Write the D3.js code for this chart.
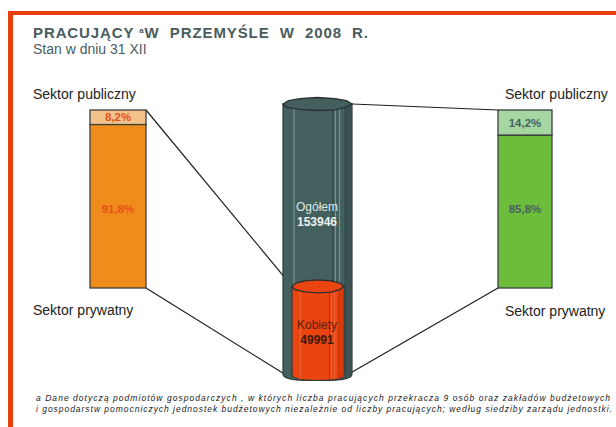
<!DOCTYPE html>
<html><head><meta charset="utf-8">
<script src="https://cdn.jsdelivr.net/npm/d3@7"></script>
<style>body{margin:0;background:#fff}svg{display:block;font-family:"Liberation Sans",Arial,sans-serif}</style>
</head><body><svg id="c" width="616" height="427"></svg>
<script>
const titleText = "PRACUJĄCY";
const subtitleText = "Stan w dniu 31 XII";
const sectors = ["Sektor publiczny", "Sektor prywatny"];
const leftShares = [8.2, 91.8];   // women (Kobiety)
const rightShares = [14.2, 85.8]; // total (Ogółem)
const leftLabels = ["8,2%", "91,8%"];
const rightLabels = ["14,2%", "85,8%"];
const cylNames = ["Ogółem", "Kobiety"];
const cylValues = [153946, 49991];
const footnote = [
 "a Dane dotyczą  podmiotów gospodarczych  , w których  liczba  pracujących przekracza 9 osób  oraz zakładów budżetowych",
 "i gospodarstw pomocniczych jednostek budżetowych niezależnie od  liczby pracujących; według siedziby zarządu jednostki."
];

const svg = d3.select("#c");
const ink = "#4a5d5d";

// frame
svg.append("rect").attr("x",10).attr("y",11).attr("width",606).attr("height",4).attr("fill","#e8400c");
svg.append("rect").attr("x",8).attr("y",11).attr("width",5).attr("height",416).attr("fill","#e8400c");

// title
const t = svg.append("text").attr("x",33).attr("y",38).attr("font-size",15).attr("font-weight","bold")
  .attr("fill",ink).style("white-space","pre").attr("letter-spacing",0.9);
t.append("tspan").text(titleText+" ");
t.append("tspan").attr("font-size",8).attr("dy",-5).text("a");
t.append("tspan").attr("dy",5).text("W  PRZEMYŚLE  W  2008  R.");
svg.append("text").attr("x",33).attr("y",54).attr("font-size",14).attr("fill",ink).text(subtitleText);

// scales
const yBar = d3.scaleLinear().domain([0,100]).range([288,110]);
const yCyl = d3.scaleLinear().domain([0,cylValues[0]]).range([374,104]);

function stackBar(x0, w, shares, fills, labels, labelColor){
  const segs = [{v0: shares[1], v1: 100, fill: fills[0], lab: labels[0]},
                {v0: 0, v1: shares[1], fill: fills[1], lab: labels[1]}];
  segs.forEach(s=>{
    svg.append("rect").attr("x",x0).attr("y",yBar(s.v1)).attr("width",w)
      .attr("height",yBar(s.v0)-yBar(s.v1)).attr("fill",s.fill).attr("stroke","#3a3f3f").attr("stroke-width",1.3);
  });
  svg.append("text").attr("x",x0+w/2).attr("y",(yBar(segs[0].v0)+yBar(segs[0].v1))/2+4)
    .attr("text-anchor","middle").attr("font-size",11.5).attr("font-weight","bold").attr("fill",labelColor).text(segs[0].lab);
  svg.append("text").attr("x",x0+w/2).attr("y",213)
    .attr("text-anchor","middle").attr("font-size",11.5).attr("font-weight","bold").attr("fill",labelColor).text(segs[1].lab);
}

// connector lines
const lineAttr = s => s.attr("stroke","#1e1e1e").attr("stroke-width",1.2).attr("fill","none");
const cx = 317;
lineAttr(svg.append("line").attr("x1",146).attr("y1",yBar(100)).attr("x2",292).attr("y2",yCyl(cylValues[1])));
lineAttr(svg.append("line").attr("x1",146).attr("y1",yBar(0)).attr("x2",286).attr("y2",yCyl(0)+1));
lineAttr(svg.append("line").attr("x1",352).attr("y1",yCyl(cylValues[0])).attr("x2",498).attr("y2",yBar(100)));
lineAttr(svg.append("line").attr("x1",498).attr("y1",yBar(0)).attr("x2",347).attr("y2",yCyl(0)+1));

stackBar(90, 56, leftShares, ["#f2c48c","#ef8c1c"], leftLabels, "#e8501a");
stackBar(498, 54, rightShares, ["#a6d6a2","#6cbd3c"], rightLabels, "#4a5e5e");

// sector labels
[[33,99,0],[33,315,1],[505,99,0],[505,316,1]].forEach(([x,y,i])=>{
  svg.append("text").attr("x",x).attr("y",y).attr("font-size",14).attr("fill","#222").text(sectors[i]);
});

// cylinder
function cylinder(xl, xr, yTop, yBot, body, dark, light, rightShade){
  const ry = 6.5, w = xr-xl, mid=(xl+xr)/2;
  const p = d3.path();
  p.moveTo(xl, yTop);
  p.lineTo(xl, yBot);
  p.bezierCurveTo(xl, yBot+ry*0.9, xl+w*0.2, yBot+ry, mid, yBot+ry);
  p.bezierCurveTo(xr-w*0.2, yBot+ry, xr, yBot+ry*0.9, xr, yBot);
  p.lineTo(xr, yTop);
  p.closePath();
  svg.append("path").attr("d",p.toString()).attr("fill",body).attr("stroke","#2e3a3a").attr("stroke-width",1.2);
  svg.append("rect").attr("x",xl+w*0.9).attr("y",yTop).attr("width",w*0.1-0.6).attr("height",yBot-yTop+ry*0.5)
    .attr("fill",rightShade);
  [[0.16,light],[0.72,dark],[0.76,light],[0.82,light],[0.9,dark]].forEach(([f,c])=>{
    svg.append("line").attr("x1",xl+w*f).attr("x2",xl+w*f).attr("y1",yTop+ry*0.6).attr("y2",yBot+ry*0.8)
      .attr("stroke",c).attr("stroke-width",1);
  });
  const angs = d3.range(0, 360, 30);
  const bump = [1,0.96,1.02,0.98,1,1.03,1,0.97,1.02,0.99,1.01,0.97];
  const pts = angs.map((a,i)=>{
    const r = a*Math.PI/180;
    return [mid + (w/2)*Math.cos(r)*bump[i], yTop + ry*Math.sin(r)*bump[(i+3)%12]];
  });
  svg.append("path").attr("d", d3.line().curve(d3.curveLinearClosed)(pts))
    .attr("fill",body).attr("stroke","#2a2f2f").attr("stroke-width",1.3);
}
cylinder(283, 352, yCyl(cylValues[0]), yCyl(0), "#43605f", "#2f4544", "#7d9a98", "#3a5352");
cylinder(292, 344, yCyl(cylValues[1]), yCyl(0), "#ea4410", "#c23406", "#f06a3a", "#d83a0a");

// cylinder labels
svg.append("text").attr("x",cx).attr("y",211).attr("text-anchor","middle").attr("font-size",12).attr("fill","#dfe6e6").text(cylNames[0]);
svg.append("text").attr("x",cx).attr("y",226).attr("text-anchor","middle").attr("font-size",12).attr("font-weight","bold").attr("fill","#eef2f2").text(cylValues[0]);
svg.append("text").attr("x",cx).attr("y",329).attr("text-anchor","middle").attr("font-size",12).attr("fill","#5a1e0a").text(cylNames[1]);
svg.append("text").attr("x",cx).attr("y",344).attr("text-anchor","middle").attr("font-size",12).attr("font-weight","bold").attr("fill","#3a1a0a").text(cylValues[1]);

// footnote
footnote.forEach((s,i)=>{
  svg.append("text").attr("x",36).attr("y",401+i*11).attr("font-size",8.5).attr("font-style","italic")
    .attr("fill","#222").attr("textLength", i===0?574:576).attr("lengthAdjust","spacing").text(s);
});
</script></body></html>
